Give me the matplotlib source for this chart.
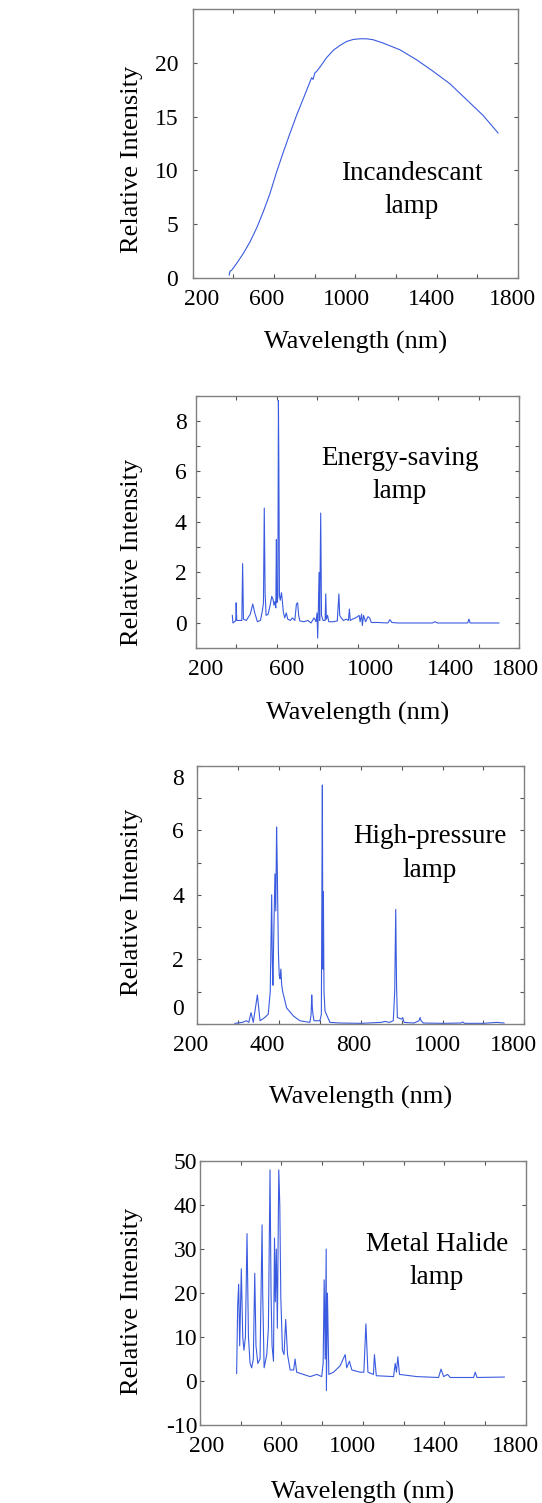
import matplotlib
matplotlib.use("Agg")
import matplotlib.pyplot as plt
import matplotlib.transforms as mtransforms
from matplotlib.ticker import MultipleLocator

plt.rcParams['font.family'] = ['Liberation Serif', 'DejaVu Serif']
plt.rcParams['axes.unicode_minus'] = False

# Incandescent lamp (smooth curve)
inc_wl = [380, 383, 392, 416, 449, 482, 515, 547, 580, 613, 646, 678, 711, 744, 768,
          785, 792, 801, 810, 826, 858, 891, 924, 957, 990, 1022, 1055, 1088, 1137,
          1219, 1301, 1383, 1465, 1546, 1628, 1702]
inc_int = [0.25, 0.6, 0.71, 1.33, 2.26, 3.34, 4.64, 6.13, 7.83, 9.85, 11.70, 13.41,
           15.11, 16.66, 17.80, 18.61, 18.45, 19.05, 19.2, 19.60, 20.46, 21.15, 21.61,
           21.98, 22.17, 22.23, 22.23, 22.14, 21.83, 21.21, 20.28, 19.20, 18.05, 16.59,
           15.11, 13.47]

# Energy-saving lamp
es_wl = [381, 384, 392, 398, 400, 403, 415, 428, 432, 436, 450, 470, 482, 492, 505,
         520, 530, 535, 539, 543, 548, 558, 568, 576, 582, 587, 592, 596, 599, 601,
         606, 609, 611, 614, 618, 624, 628, 633, 640, 648, 655, 668, 678, 690, 698,
         704, 709, 715, 735, 755, 770, 785, 795, 800, 803, 806, 810, 813, 818, 822,
         830, 840, 843, 846, 852, 858, 880, 900, 908, 912, 920, 930, 945, 955, 960,
         964, 975, 990, 1000, 1008, 1013, 1020, 1024, 1030, 1040, 1052, 1060, 1068,
         1100, 1150, 1160, 1170, 1200, 1300, 1370, 1383, 1395, 1450, 1545, 1551,
         1557, 1600, 1699]
es_int = [0.3, 0.0, 0.05, 0.1, 0.8, 0.1, 0.1, 0.1, 2.35, 0.15, 0.1, 0.35, 0.75, 0.4,
          0.05, 0.1, 0.5, 0.8, 4.55, 1.2, 0.3, 0.35, 0.7, 1.05, 0.95, 0.7, 0.85, 0.6,
          3.3, 0.8, 1.0, 8.8, 6.3, 1.1, 0.9, 1.2, 0.9, 0.45, 0.2, 0.4, 0.15, 0.1, 0.2,
          0.1, 0.75, 0.8, 0.3, 0.08, 0.05, 0.1, 0.0, 0.2, 0.05, 0.4, -0.6, 0.4, 2.0,
          0.1, 4.35, 0.3, 0.1, 0.1, 1.15, 0.15, 0.3, 0.05, 0.05, 0.08, 1.15, 0.3, 0.2,
          0.1, 0.15, 0.1, 0.55, 0.1, 0.15, 0.2, 0.25, 0.3, 0.05, 0.35, -0.1, 0.3, 0.05,
          0.25, 0.2, 0.02, 0.02, 0.0, 0.13, 0.02, 0.0, 0.0, 0.0, 0.05, 0.0, 0.0, 0.0,
          0.15, 0.0, 0.0, 0.0]

# High-pressure lamp
hp_wl = [384, 420, 441, 452, 463, 474, 494, 507, 530, 547, 557, 564, 567, 570, 575,
         580, 584, 588, 591, 593, 597, 601, 605, 609, 613, 618, 637, 670, 702, 751,
         757, 760, 763, 766, 771, 800, 807, 812, 814, 815, 817, 820, 825, 849, 900,
         1000, 1100, 1118, 1140, 1159, 1166, 1171, 1175, 1179, 1200, 1205, 1212,
         1260, 1285, 1290, 1295, 1306, 1400, 1490, 1499, 1508, 1600, 1665, 1701]
hp_int = [0.02, 0.05, 0.1, 0.05, 0.35, 0.05, 0.9, 0.1, 0.2, 0.3, 1.0, 4.0, 2.0, 1.2,
          3.0, 4.65, 3.5, 6.1, 5.0, 4.0, 2.2, 1.5, 1.4, 1.7, 1.2, 1.0, 0.5, 0.25, 0.1,
          0.05, 0.3, 0.9, 0.5, 0.3, 0.1, 0.1, 0.3, 7.4, 3.0, 1.7, 4.1, 1.0, 0.4, 0.05,
          0.03, 0.02, 0.05, 0.08, 0.05, 0.1, 1.0, 3.55, 1.2, 0.2, 0.15, 0.2, 0.05,
          0.03, 0.1, 0.2, 0.1, 0.03, 0.02, 0.03, 0.06, 0.02, 0.02, 0.05, 0.03]

# Metal halide lamp
mh_wl = [380, 385, 390, 395, 403, 410, 416, 423, 431, 438, 446, 454, 462, 469, 475,
         484, 495, 505, 508, 515, 528, 536, 544, 549, 554, 561, 566, 570, 575, 580,
         587, 592, 597, 605, 613, 621, 630, 643, 660, 667, 675, 708, 741, 774, 798,
         805, 810, 815, 820, 821, 826, 833, 856, 889, 913, 921, 934, 946, 987, 1005,
         1015, 1025, 1052, 1057, 1066, 1151, 1159, 1165, 1172, 1180, 1266, 1372,
         1384, 1397, 1416, 1430, 1544, 1552, 1561, 1695]
mh_int = [1.7, 17, 22, 8, 25.5, 10, 7, 10, 33.5, 10, 4, 3, 5, 24.5, 8, 4, 5, 35.5, 20,
          3, 6, 12, 48, 20, 8, 4.5, 32.5, 18, 30, 12, 48, 40, 19, 7, 6, 14, 6, 2.5,
          2.5, 5, 2, 1.5, 1, 1.5, 1, 4, 23, 5, 30, -2.2, 20, 1.5, 2, 3.5, 6, 3, 4.5,
          2.5, 2, 2, 13, 2, 1.5, 6, 1.2, 1.0, 4, 2, 5.5, 1.5, 1, 0.8, 2.7, 1, 1.5, 0.8,
          0.8, 2, 0.8, 0.9]

panels = [
    dict(wl=inc_wl, val=inc_int, rect=[0.3555, 0.8152, 0.6002, 0.1788],
         ylim=(0, 25), yticks=[0, 5, 10, 15, 20], yminor=None,
         xlabels=['200', '600', '1000', '1400', '1800'],
         xshift=[9, -7, -9, -5, -6], yshift=None,
         text="Incandescant\nlamp", tpos=(0.673, 0.326), ypad=10.5,
         ylab=(-60.7 / 325.3, 0.44), xlab=-65 / 268.7),
    dict(wl=es_wl, val=es_int, rect=[0.3611, 0.5687, 0.5970, 0.1681],
         ylim=(-1, 9), yticks=[0, 2, 4, 6, 8], yminor=1,
         xlabels=['200', '600', '1000', '1400', '1800'],
         xshift=[10, 10, 13, 12, -4], yshift=None,
         text="Energy-saving\nlamp", tpos=(0.631, 0.686), ypad=6.5,
         ylab=(-63.7 / 323.6, 0.38), xlab=-65 / 252.6),
    dict(wl=hp_wl, val=hp_int, rect=[0.3640, 0.3187, 0.6033, 0.1719],
         ylim=(0, 8), yticks=[0, 2, 4, 6, 8], yminor=1,
         xlabels=['200', '400', '800', '1000', '1800'],
         xshift=[-7, -12, -7, -5, -11], yshift=[17, 0, 0, 0, -11],
         text="High-pressure\nlamp", tpos=(0.712, 0.660), ypad=9.5,
         ylab=(-65.3 / 327.0, 0.47), xlab=-73 / 258.3),
    dict(wl=mh_wl, val=mh_int, rect=[0.3690, 0.0519, 0.6009, 0.1756],
         ylim=(-10, 50), yticks=[-10, 0, 10, 20, 30, 40, 50], yminor=None,
         xlabels=['200', '600', '1000', '1400', '1800'],
         xshift=[7, -1, -10, -9, -10], yshift=None,
         text="Metal Halide\nlamp", tpos=(0.727, 0.622), ypad=2,
         ylab=(-68 / 325.7, 0.47), xlab=-67 / 264.0),
]

fig = plt.figure(figsize=(5.42, 15.03), dpi=100)

for p in panels:
    ax = fig.add_axes(p['rect'])
    ax.plot(p['wl'], p['val'], color='#3a5be0', linewidth=0.8)
    ax.set_xlim(200, 1800)
    ax.set_ylim(*p['ylim'])
    ax.set_xticks([200, 600, 1000, 1400, 1800])
    ax.set_xticklabels(p['xlabels'])
    ax.xaxis.set_minor_locator(MultipleLocator(200))
    ax.set_yticks(p['yticks'])
    if p['yminor']:
        ax.yaxis.set_minor_locator(MultipleLocator(p['yminor']))
    ax.tick_params(which='both', direction='in', top=True, right=True,
                   length=3, width=0.8, color='#555555', labelsize=17)
    ax.tick_params(axis='x', pad=8)
    ax.tick_params(axis='y', pad=p['ypad'])
    for s in ax.spines.values():
        s.set_color('#808080')
        s.set_linewidth(1.0)

    # nudge tick labels to where they sit in the original figure
    for lab, dx in zip(ax.get_xticklabels(), p['xshift']):
        off = mtransforms.ScaledTranslation(dx / 100, 0, fig.dpi_scale_trans)
        lab.set_transform(lab.get_transform() + off)
    if p['yshift']:
        for lab, dy in zip(ax.get_yticklabels(), p['yshift']):
            off = mtransforms.ScaledTranslation(0, dy / 100, fig.dpi_scale_trans)
            lab.set_transform(lab.get_transform() + off)

    ax.set_ylabel("Relative Intensity", fontsize=19, va='center')
    ax.yaxis.set_label_coords(*p['ylab'])
    ax.set_xlabel("Wavelength (nm)", fontsize=19, va='center')
    ax.xaxis.set_label_coords(0.5, p['xlab'])
    ax.text(p['tpos'][0], p['tpos'][1], p['text'], transform=ax.transAxes,
            ha='center', va='center', fontsize=19.5, linespacing=1.45)

fig.savefig("out.png", dpi=100)
